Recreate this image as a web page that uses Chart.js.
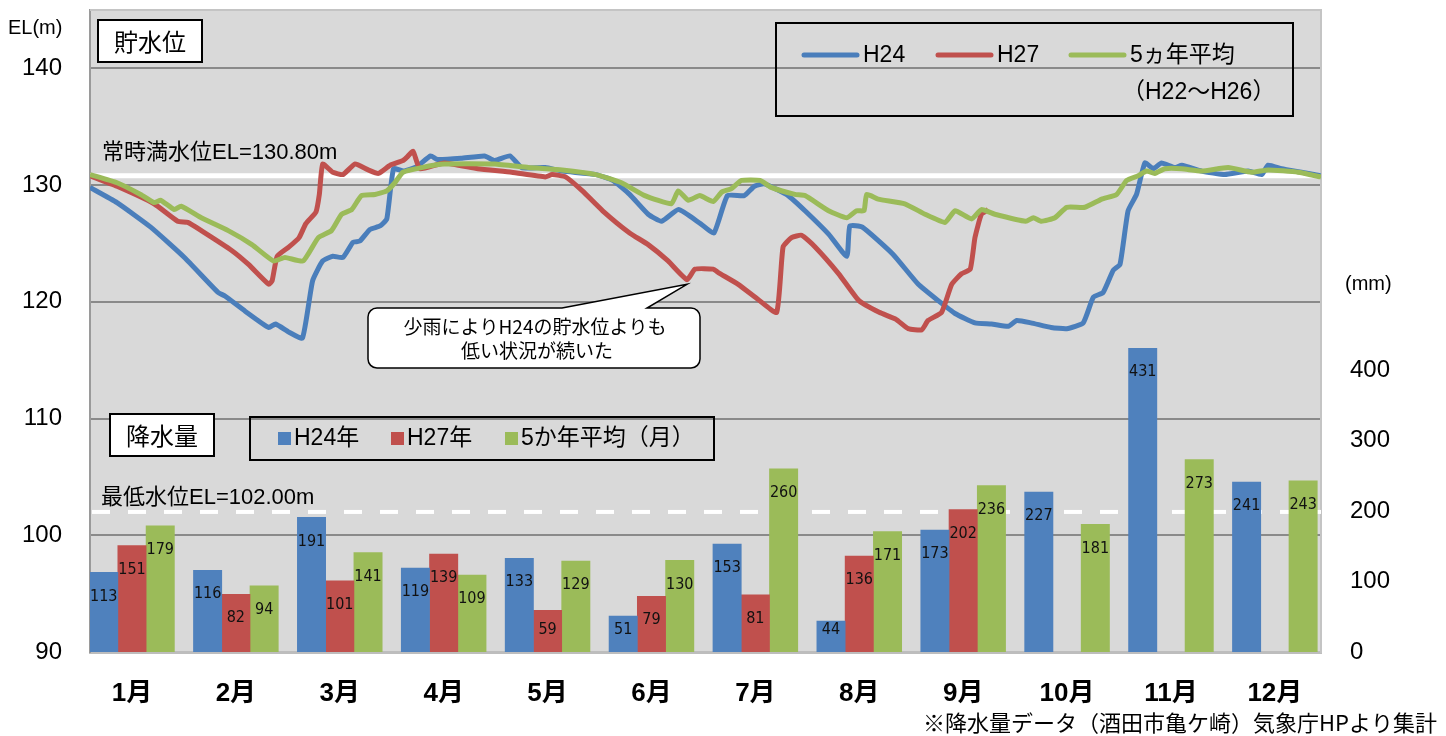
<!DOCTYPE html>
<html lang="ja">
<head>
<meta charset="utf-8">
<title>貯水位と降水量</title>
<script src="https://cdn.jsdelivr.net/npm/chart.js@4.4.1/dist/chart.umd.min.js"></script>
<style>
  html, body { margin: 0; padding: 0; background: #fff; }
  #wrap { width: 1446px; height: 736px; }
</style>
</head>
<body>
<div id="wrap"><canvas id="chart" width="1446" height="736"></canvas></div>
<script>
// categories / ticks
const months = ['1月', '2月', '3月', '4月', '5月', '6月', '7月', '8月', '9月', '10月', '11月', '12月'];
const rainTicks = [0, 100, 200, 300, 400];

// monthly rainfall (mm)
const rainH24 = [113, 116, 191, 119, 133, 51, 153, 44, 173, 227, 431, 241];
const rainH27 = [151, 82, 101, 139, 59, 79, 81, 136, 202, null, null, null];
const rainAvg = [179, 94, 141, 109, 129, 130, 260, 171, 236, 181, 273, 243];

// reservoir level (EL m), x = day of year
const h24Days = [0, 8, 18, 28, 38, 40, 46, 53, 55, 59, 63, 66, 69, 72, 75, 78, 80, 83, 86, 88, 90, 93, 97,
  101, 103, 110, 117, 120, 124.5, 128, 135, 140, 150, 155, 160, 165.5, 169.5, 174.5, 181, 185, 189, 194, 197,
  200, 207, 212, 219, 224.4, 225.3, 229, 238, 245.6, 251.5, 256.5, 262.4, 267.3, 272.3, 274.8, 279, 285,
  289.6, 294.5, 297.5, 300.4, 303.4, 305.4, 307.8, 310.3, 312.8, 315.3, 317.7, 321.7, 323.7, 329.6, 336.5,
  343.4, 347.4, 349.3, 353.3, 359.2, 365];
const h24Level = [129.8, 128.5, 126.4, 123.8, 120.8, 120.5, 119.2, 117.8, 118.1, 117.4, 116.9, 121.8, 123.5,
  123.9, 123.8, 125.1, 125.2, 126.2, 126.5, 127.1, 131.4, 131.2, 131.6, 132.5, 132.2, 132.3, 132.5, 132.1,
  132.5, 131.5, 131.5, 131.2, 130.9, 130.4, 129.2, 127.5, 126.9, 127.9, 126.7, 125.9, 129.1, 129.1, 129.9,
  130.1, 129.1, 127.8, 125.8, 123.9, 126.5, 126.4, 124.1, 121.5, 120.1, 119.0, 118.2, 118.1, 117.9, 118.4,
  118.2, 117.8, 117.7, 118.2, 120.4, 120.8, 122.7, 123.2, 127.8, 129.2, 131.9, 131.4, 131.9, 131.5, 131.7,
  131.2, 130.9, 131.2, 130.9, 131.7, 131.4, 131.1, 130.8];

const h27Days = [0, 8, 19, 26, 29, 33, 42, 47, 53, 54, 55.5, 59, 62, 64, 67, 68, 69, 72, 75, 78.6, 82.5, 85.5,
  89, 92.8, 94, 95.8, 97.8, 105, 115, 125, 135, 137, 141, 146, 152, 160, 165.5, 171.4, 177, 179.4, 184.8,
  186.3, 192.2, 198.1, 203.6, 205.5, 208, 211, 215, 222, 228, 234, 239, 242.6, 246.6, 248.5, 252.5, 255.5,
  258.4, 261, 262.4, 264.3, 266.3];
const h27Level = [130.8, 129.9, 128.4, 126.9, 126.8, 126.1, 124.4, 123.2, 121.5, 121.8, 123.9, 124.7, 125.5,
  126.7, 127.7, 129.2, 131.8, 131.1, 130.9, 131.8, 131.3, 131.0, 131.7, 132.1, 132.4, 132.9, 131.4, 131.9,
  131.4, 131.1, 130.7, 130.9, 130.7, 129.5, 127.8, 125.9, 124.9, 123.5, 121.9, 122.8, 122.8, 122.5, 121.5,
  120.2, 119.1, 124.7, 125.5, 125.7, 124.7, 122.4, 120.1, 119.1, 118.5, 117.7, 117.6, 118.4, 119.1, 121.5,
  122.4, 122.8, 125.5, 127.5, 127.9];

const avgDays = [0, 8, 15, 19, 21, 25, 27, 33, 41, 48, 54.4, 57.8, 63.2, 67.7, 71.6, 74.6, 77.6, 80.5, 84.5,
  88, 90.4, 92.8, 98.3, 105, 120, 130, 140, 150, 157.6, 164.5, 172.4, 174.4, 177.4, 180.8, 184.8, 187.3,
  190.2, 193.2, 198.7, 202, 209, 212, 219, 224.4, 227.3, 229.5, 230.3, 233.7, 241.6, 247.6, 253.5, 256.5,
  261.4, 264.3, 268.3, 277.5, 279.7, 282.1, 286.1, 289.6, 295, 300, 304.4, 307.4, 310.8, 313.3, 315.7,
  318.7, 323.7, 329.6, 337.5, 344.4, 349.3, 358.2, 365];
const avgLevel = [130.9, 130.2, 129.2, 128.5, 128.7, 127.9, 128.2, 127.2, 126.1, 124.9, 123.5, 123.8, 123.5,
  125.5, 126.1, 127.5, 127.9, 129.1, 129.2, 129.5, 130.2, 131.1, 131.5, 131.8, 131.8, 131.5, 131.3, 130.9,
  130.2, 129.1, 128.4, 129.5, 128.7, 129.1, 128.6, 129.4, 129.7, 130.4, 130.4, 129.8, 129.2, 129.1, 127.8,
  127.2, 127.8, 127.8, 129.2, 128.8, 128.4, 127.5, 126.8, 127.8, 127.1, 127.9, 127.5, 126.9, 127.2, 126.9,
  127.2, 128.1, 128.1, 128.8, 129.2, 130.4, 130.8, 131.2, 131.0, 131.4, 131.4, 131.2, 131.5, 131.1, 131.3,
  131.1, 130.7];

const FULL_LEVEL = 130.8;
const MIN_LEVEL = 102.0;

// bar layout: three bars side by side in each month
const BAR_W = 28.3;
const BAR_SHIFT = 0.272;

const JP = '"Noto Sans CJK JP", sans-serif';
const NUM = '"Liberation Sans", "Noto Sans CJK JP", sans-serif';

const toPts = (xs, ys) => xs.map((x, i) => ({ x: x, y: ys[i] }));
const toBars = (vals, shift) => vals.map((v, i) => ({ x: i + shift, y: v }));

function line(ctx, x1, y1, x2, y2) {
    ctx.beginPath();
    ctx.moveTo(x1, y1);
    ctx.lineTo(x2, y2);
    ctx.stroke();
}

// keep the plot area where the reference has it
function fixBox(size, key) {
    return s => {
        s[key] = size;
        s.paddingTop = 0;
        s.paddingBottom = 0;
        s.paddingLeft = 0;
        s.paddingRight = 0;
    };
}

// background, plot frame and the two white reference lines
const backdrop = {
    id: 'backdrop',
    beforeDraw(chart) {
        const { ctx, chartArea: a } = chart;
        ctx.save();
        ctx.fillStyle = '#ffffff';
        ctx.fillRect(0, 0, chart.width, chart.height);
        ctx.fillStyle = '#d9d9d9';
        ctx.fillRect(a.left, a.top, a.right - a.left, a.bottom - a.top);
        ctx.restore();
    },
    beforeDatasetsDraw(chart) {
        const { ctx, chartArea: a, scales } = chart;
        ctx.save();
        ctx.strokeStyle = '#c4c4c4';
        ctx.lineWidth = 2;
        line(ctx, a.left, a.top, a.right, a.top);
        ctx.strokeStyle = '#ffffff';
        ctx.lineWidth = 5;
        const yf = scales.y.getPixelForValue(FULL_LEVEL);
        line(ctx, a.left, yf, a.right, yf);
        ctx.lineWidth = 4;
        ctx.setLineDash([18, 18]);
        const ym = scales.y.getPixelForValue(MIN_LEVEL);
        line(ctx, a.left + 2, ym, a.right, ym);
        ctx.restore();
    }
};

// numbers inside the bars
const barLabels = {
    id: 'barLabels',
    afterDatasetsDraw(chart) {
        const ctx = chart.ctx;
        const bottom = chart.scales.yr.getPixelForValue(0);
        ctx.save();
        ctx.font = '16px "DejaVu Sans Condensed", "DejaVu Sans", sans-serif';
        ctx.fillStyle = '#111111';
        ctx.textAlign = 'center';
        ctx.textBaseline = 'middle';
        chart.data.datasets.forEach((ds, di) => {
            if (ds.type !== 'bar') return;
            chart.getDatasetMeta(di).data.forEach((bar, i) => {
                const v = ds.data[i].y;
                if (v == null) return;
                ctx.fillText(String(v), bar.x, Math.min(bar.y + 24, bottom - 22));
            });
        });
        ctx.restore();
    }
};

// boxes, legends, callout and notes
const notes = {
    id: 'notes',
    afterDraw(chart) {
        const { ctx, scales } = chart;
        ctx.save();
        ctx.textBaseline = 'middle';
        ctx.fillStyle = '#000';

        // axis units
        ctx.font = '20px ' + NUM;
        ctx.textAlign = 'left';
        ctx.fillText('EL(m)', 8, 28);
        ctx.fillText('(mm)', 1345, 284);

        // reference line labels
        ctx.font = '22px ' + NUM;
        ctx.fillText('常時満水位EL=130.80m', 102, 153);
        ctx.fillText('最低水位EL=102.00m', 101, 498);

        // title boxes
        ctx.lineWidth = 2;
        ctx.strokeStyle = '#000';
        ctx.font = '24px ' + JP;
        ctx.textAlign = 'center';
        [['貯水位', 98, 20, 104, 42], ['降水量', 110, 414, 104, 42]].forEach(([t, x, y, w, h]) => {
            ctx.fillStyle = '#fff';
            ctx.fillRect(x, y, w, h);
            ctx.strokeRect(x, y, w, h);
            ctx.fillStyle = '#000';
            ctx.fillText(t, x + w / 2, y + h / 2 + 1);
        });

        // level legend
        ctx.strokeRect(776, 23, 517, 93);
        ctx.lineCap = 'round';
        ctx.lineWidth = 5;
        ctx.textAlign = 'left';
        ctx.font = '23px ' + NUM;
        [['H24', '#4a7ebb', 804], ['H27', '#c0504d', 938], ['5ヵ年平均', '#9bbb59', 1071]].forEach(([t, c, x]) => {
            ctx.strokeStyle = c;
            line(ctx, x, 55, x + 53, 55);
            ctx.fillStyle = '#000';
            ctx.fillText(t, x + 59, 56);
        });
        ctx.fillText('（H22～H26）', 1122, 93);

        // rainfall legend
        ctx.lineCap = 'butt';
        ctx.lineWidth = 2;
        ctx.strokeStyle = '#000';
        ctx.strokeRect(250, 417, 464, 43);
        [['H24年', '#4f81bd', 278], ['H27年', '#c0504d', 391], ['5か年平均（月）', '#9bbb59', 505]].forEach(([t, c, x]) => {
            ctx.fillStyle = c;
            ctx.fillRect(x, 432, 13, 13);
            ctx.fillStyle = '#000';
            ctx.fillText(t, x + 16, 439);
        });

        // callout
        const tipX = scales.xd.getPixelForValue(177);
        const tipY = scales.y.getPixelForValue(121.5);
        const L = 368, T = 308, R = 700, B = 368, r = 9;
        ctx.beginPath();
        ctx.moveTo(L + r, T);
        ctx.lineTo(562, T);
        ctx.lineTo(tipX, tipY);
        ctx.lineTo(647, T);
        ctx.arcTo(R, T, R, B, r);
        ctx.arcTo(R, B, L, B, r);
        ctx.arcTo(L, B, L, T, r);
        ctx.arcTo(L, T, R, T, r);
        ctx.closePath();
        ctx.fillStyle = '#fff';
        ctx.fill();
        ctx.lineWidth = 1.5;
        ctx.stroke();
        ctx.fillStyle = '#000';
        ctx.font = '19px ' + JP;
        ctx.textAlign = 'center';
        ctx.fillText('少雨によりH24の貯水位よりも', 535, 327);
        ctx.fillText('低い状況が続いた', 537, 351);

        // source note
        ctx.font = '22px ' + JP;
        ctx.textAlign = 'right';
        ctx.fillText('※降水量データ（酒田市亀ケ崎）気象庁HPより集計', 1437, 723);
        ctx.restore();
    }
};

const barStyle = { type: 'bar', xAxisID: 'x', yAxisID: 'yr', grouped: false, barThickness: BAR_W, order: 10 };
const lineStyle = { type: 'line', xAxisID: 'xd', yAxisID: 'y', borderWidth: 5, pointRadius: 0, tension: 0.15 };

const ctx = document.getElementById('chart').getContext('2d');
const chart = new Chart(ctx, {
    data: {
        datasets: [
            { ...barStyle, label: 'H24年', data: toBars(rainH24, -BAR_SHIFT), backgroundColor: '#4f81bd' },
            { ...barStyle, label: 'H27年', data: toBars(rainH27, 0), backgroundColor: '#c0504d' },
            { ...barStyle, label: '5か年平均（月）', data: toBars(rainAvg, BAR_SHIFT), backgroundColor: '#9bbb59' },
            { ...lineStyle, label: 'H24', data: toPts(h24Days, h24Level), borderColor: '#4a7ebb', order: 3 },
            { ...lineStyle, label: 'H27', data: toPts(h27Days, h27Level), borderColor: '#c0504d', order: 2 },
            { ...lineStyle, label: '5ヵ年平均', data: toPts(avgDays, avgLevel), borderColor: '#9bbb59', order: 1 }
        ]
    },
    options: {
        responsive: false,
        animation: false,
        layout: { padding: { top: 10, left: 0, right: 0, bottom: 0 } },
        plugins: { legend: { display: false }, tooltip: { enabled: false } },
        scales: {
            x: {
                type: 'linear',
                position: 'bottom',
                offset: false,
                min: -0.404,
                max: 11.444,
                afterBuildTicks: s => { s.ticks = months.map((m, i) => ({ value: i })); },
                afterFit: fixBox(84, 'height'),
                ticks: {
                    autoSkip: false,
                    maxRotation: 0,
                    padding: 26,
                    color: '#000',
                    font: { family: NUM, size: 26, weight: 'bold' },
                    callback: (v, i) => months[i]
                },
                grid: { display: false, drawTicks: false, offset: false },
                border: { display: true, color: '#bdbdbd', width: 3 }
            },
            xd: { type: 'linear', display: false, min: 0, max: 365 },
            y: {
                position: 'left',
                min: 90,
                max: 145,
                afterFit: fixBox(90, 'width'),
                ticks: { stepSize: 10, includeBounds: false, padding: 28, color: '#000',
                         font: { family: NUM, size: 24 } },
                grid: { color: '#8a8a8a', lineWidth: 2, drawTicks: false },
                border: { display: true, color: '#9a9a9a', width: 2 }
            },
            yr: {
                position: 'right',
                min: 0,
                max: 911,
                afterBuildTicks: s => { s.ticks = rainTicks.map(v => ({ value: v })); },
                afterFit: fixBox(125, 'width'),
                ticks: { padding: 29, color: '#000', font: { family: NUM, size: 24 } },
                grid: { display: false, drawTicks: false },
                border: { display: true, color: '#c4c4c4', width: 2 }
            }
        }
    },
    plugins: [backdrop, barLabels, notes]
});
</script>
</body>
</html>
